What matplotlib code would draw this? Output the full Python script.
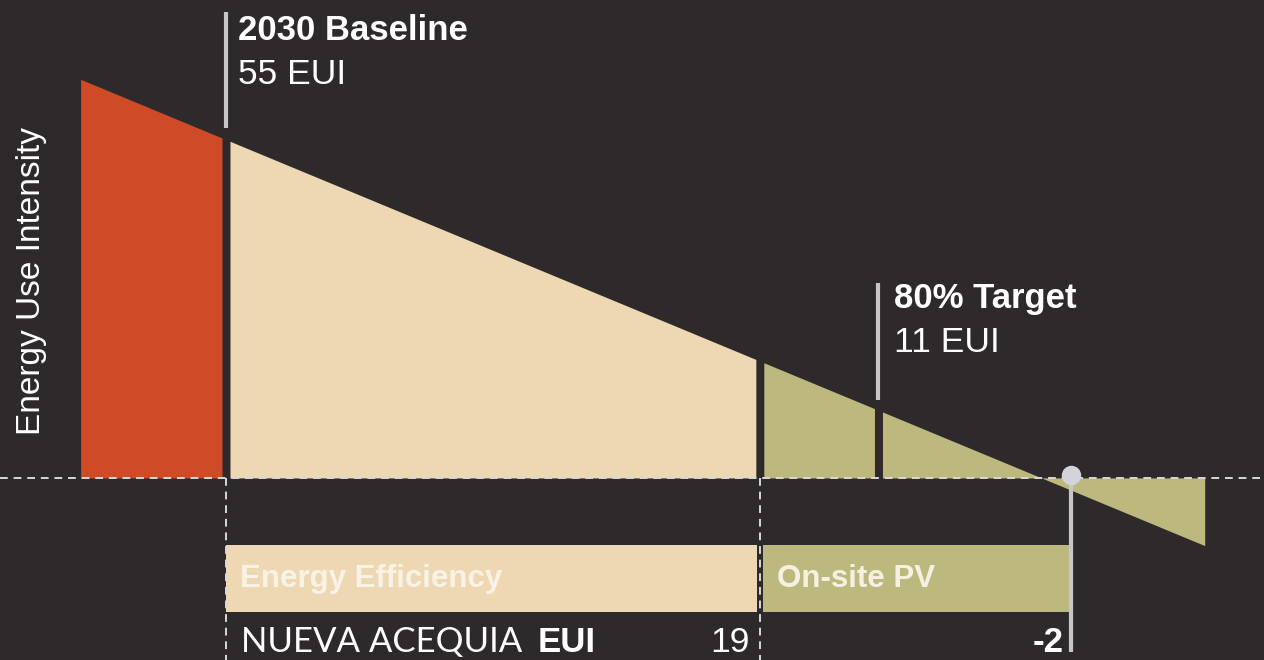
import numpy as np
import matplotlib.pyplot as plt

# colours
bg = "#2E2A2B"
red = "#CF4B27"
beige = "#EDD8B3"
olive = "#BDB97E"
grey = "#C6C6C6"

# EUI values along the sloped line
line_start = 64.8
line_end = -11.0
baseline_eui = 55
efficiency_eui = 19
target_eui = 11
pv_eui = -2
gap = 0.27

seg_left = [line_start, baseline_eui - gap, efficiency_eui - gap, target_eui - gap]
seg_right = [baseline_eui + gap, efficiency_eui + gap, target_eui + gap, line_end]
seg_colors = [red, beige, olive, olive]

bar_labels = ["Energy Efficiency", "On-site PV"]
bar_start = [baseline_eui, efficiency_eui - 0.2]
bar_end = [efficiency_eui + 0.2, pv_eui]
bar_colors = [beige, olive]

fnt = "Liberation Sans"

fig = plt.figure(figsize=(12.64, 6.6), dpi=100)
fig.patch.set_facecolor(bg)
ax = fig.add_axes([0, 0, 1, 1])
ax.set_facecolor(bg)
ax.set_xlim(70.24, -15.0)
ax.set_ylim(-29.6, 77.7)
ax.axis("off")

# sloped wedges
for a, b, c in zip(seg_left, seg_right, seg_colors):
    x = np.array([a, b])
    ax.fill_between(x, x, 0, color=c, lw=0, zorder=2)

# bars below
for lab, s, e, c in zip(bar_labels, bar_start, bar_end, bar_colors):
    ax.barh(-16.35, s - e, left=e, height=10.9, color=c, lw=0, zorder=2)
    ax.text(s - 0.95, -17.7, lab, color="#FBF5EA", fontsize=22.5, weight="bold",
            family=fnt, va="baseline", ha="left", zorder=4, alpha=0.92)

# dashed guides
ax.axhline(0, color="#D8D8D8", lw=1.4, ls=(0, (4, 3)), zorder=3)
for v in [baseline_eui, efficiency_eui]:
    ax.plot([v, v], [0, -29.6], color="#D8D8D8", lw=1.4, ls=(0, (4, 3)), zorder=3)

# markers
ax.plot([baseline_eui, baseline_eui], [56.9, 75.8], color=grey, lw=3, solid_capstyle="butt", zorder=3)
ax.plot([target_eui, target_eui], [12.7, 31.7], color=grey, lw=3, solid_capstyle="butt", zorder=3)
ax.plot([pv_eui, pv_eui], [0, -28.3], color=grey, lw=3, solid_capstyle="butt", zorder=4)
ax.plot([pv_eui], [0.4], "o", ms=14, color="#D3D3DA", mec="none", zorder=5)

tf = dict(family=fnt, color="white", va="baseline", ha="left")
ax.text(54.2, 71.2, "2030 Baseline", fontsize=25, weight="bold", **tf)
ax.text(54.2, 64.0, "55 EUI", fontsize=25.5, **tf)
ax.text(9.95, 27.6, "80% Target", fontsize=25, weight="bold", **tf)
ax.text(9.95, 20.4, "11 EUI", fontsize=25.5, **tf)

ax.text(68.1, 32.0, "Energy Use Intensity", rotation=90, fontsize=24,
        family=fnt, color="white", ha="center", va="center")

ax.text(54.0, -28.3, "NUEVA ACEQUIA", fontsize=25, family="Lato", weight="normal",
        color="white", va="baseline", ha="left")
ax.text(34.0, -28.3, "EUI", fontsize=25, family=fnt, weight="bold",
        color="white", va="baseline", ha="left")
ax.text(efficiency_eui + 0.7, -28.3, "19", fontsize=25.5, family=fnt,
        color="white", va="baseline", ha="right")
ax.text(pv_eui + 0.5, -28.3, "-2", fontsize=25, family=fnt, weight="bold",
        color="white", va="baseline", ha="right")

fig.savefig("out.png", dpi=100, facecolor=bg)
